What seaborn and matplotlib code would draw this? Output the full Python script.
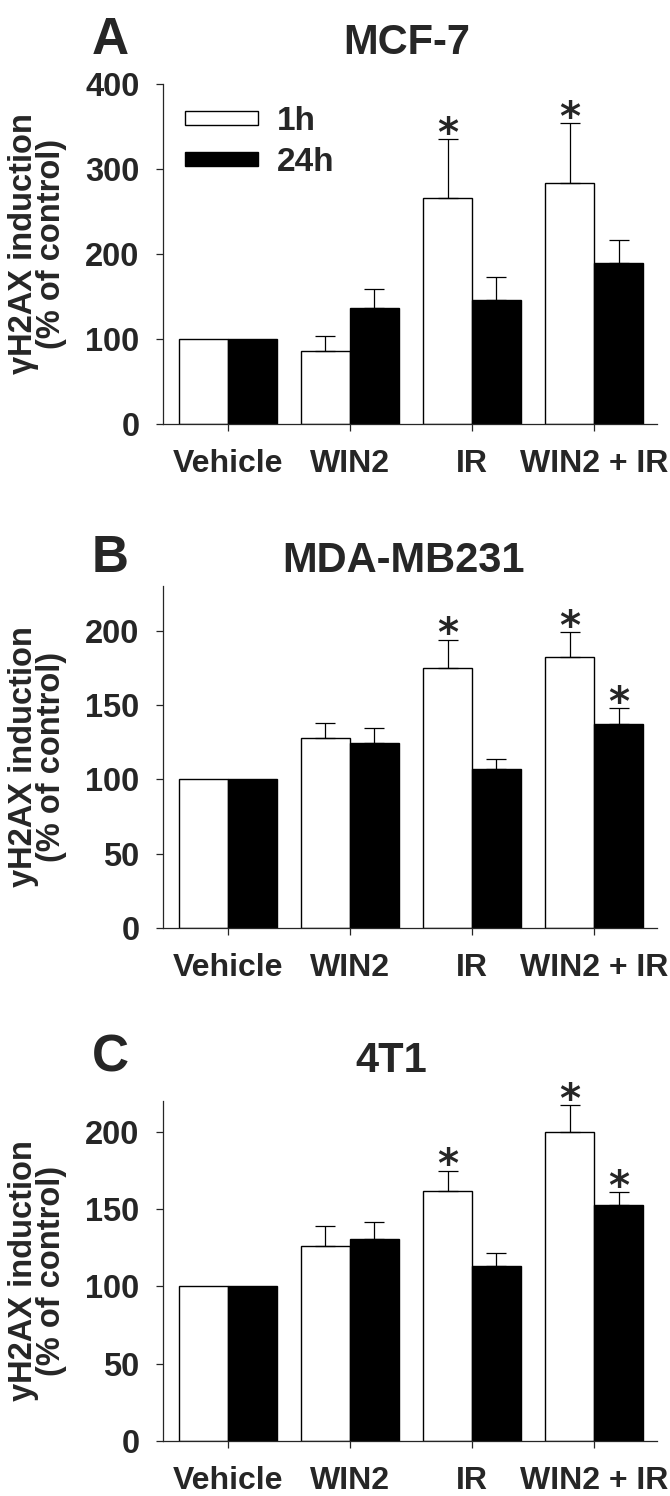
import numpy as np
import pandas as pd
import matplotlib
matplotlib.use("Agg")
import matplotlib.pyplot as plt
import seaborn as sns

# data (% of control, mean and upper SEM)
treatments = ["Vehicle", "WIN2", "IR", "WIN2 + IR"]
times = ["1h", "24h"]

mcf7_1h = [100, 86, 266, 284]
mcf7_1h_err = [0, 17, 69, 70]
mcf7_24h = [100, 137, 146, 189]
mcf7_24h_err = [0, 22, 27, 27]

mda_1h = [100, 128, 175, 182]
mda_1h_err = [0, 10, 19, 17]
mda_24h = [100, 124.5, 107, 137]
mda_24h_err = [0, 10, 6.5, 10.7]

t41_1h = [100, 126, 162, 200]
t41_1h_err = [0, 13, 13, 17.5]
t41_24h = [100, 130.5, 113.5, 152.5]
t41_24h_err = [0, 11, 8, 8.5]

# significance stars: (treatment index, time)
mcf7_stars = [(2, "1h"), (3, "1h")]
mda_stars = [(2, "1h"), (3, "1h"), (3, "24h")]
t41_stars = [(2, "1h"), (3, "1h"), (3, "24h")]

W, H = 670, 1496


def make_df(v1, v24):
    return pd.DataFrame({
        "treatment": treatments * 2,
        "time": ["1h"] * 4 + ["24h"] * 4,
        "value": list(v1) + list(v24),
    })


def plot_panel(ax, df, errs, stars, ylim, yticks, ylabel, label_y, legend):
    sns.barplot(data=df, x="treatment", y="value", hue="time", order=treatments,
                hue_order=times, palette=["white", "black"], edgecolor="black",
                linewidth=1.0, errorbar=None, width=0.8, ax=ax, legend=False)

    for cont, err, t in zip(ax.containers, errs, times):
        xs = np.array([b.get_x() + b.get_width() / 2 for b in cont])
        hs = np.array([b.get_height() for b in cont])
        err = np.array(err)
        m = err > 0
        ax.errorbar(xs[m], hs[m], yerr=[np.zeros(m.sum()), err[m]], fmt="none",
                    ecolor="black", elinewidth=0.9, capsize=7, capthick=0.9)
        for i, tt in stars:
            if tt == t:
                ax.annotate("*", xy=(xs[i], hs[i] + err[i]), xytext=(0, -5),
                            textcoords="offset points", ha="center", va="baseline",
                            fontsize=29, fontweight="bold", family="DejaVu Sans")

    ax.set_ylim(*ylim)
    ax.set_yticks(yticks)
    ax.set_xlim(-0.53, 3.515)
    ax.set_xlabel("")
    ax.set_ylabel(ylabel, fontsize=23.5, fontweight="bold", linespacing=0.85)
    ax.yaxis.set_label_coords(-0.195, label_y)
    ax.tick_params(axis="y", labelsize=23.5, length=5, width=0.9, pad=12)
    ax.tick_params(axis="x", labelsize=23, length=5, width=0.9, pad=13)
    sns.despine(ax=ax)
    for s in ["left", "bottom"]:
        ax.spines[s].set_linewidth(0.9)

    if legend:
        ax.legend(handles=list(ax.containers), labels=times, loc="upper left",
                  bbox_to_anchor=(0.044, 0.935), frameon=False, fontsize=24,
                  handlelength=2.2, handleheight=0.28, handletextpad=0.55,
                  labelspacing=0.3, borderpad=0, borderaxespad=0)


sns.set_style("ticks")
plt.rcParams["font.family"] = ["Liberation Sans", "DejaVu Sans"]
plt.rcParams["font.weight"] = "bold"
plt.rcParams["axes.labelweight"] = "bold"

fig = plt.figure(figsize=(W / 100, H / 100), dpi=100)

# panel layout in pixels: letter, title, title x, baseline y, axes top, axes bottom
panels = [
    ("A", "MCF-7", 407, 54, 84, 424),
    ("B", "MDA-MB231", 403, 572, 586, 928),
    ("C", "4T1", 391, 1072, 1101, 1441),
]
ax_left, ax_right = 163, 657

data = [
    (make_df(mcf7_1h, mcf7_24h), [mcf7_1h_err, mcf7_24h_err], mcf7_stars, (0, 400),
     [0, 100, 200, 300, 400], "\u03b3H2AX induction\n(% of control)", 0.53, True),
    (make_df(mda_1h, mda_24h), [mda_1h_err, mda_24h_err], mda_stars, (0, 230),
     [0, 50, 100, 150, 200], "yH2AX induction\n(% of control)", 0.5, False),
    (make_df(t41_1h, t41_24h), [t41_1h_err, t41_24h_err], t41_stars, (0, 220),
     [0, 50, 100, 150, 200], "yH2AX induction\n(% of control)", 0.5, False),
]

for (letter, title, tx, base, top, bottom), args in zip(panels, data):
    ax = fig.add_axes([ax_left / W, 1 - bottom / H, (ax_right - ax_left) / W, (bottom - top) / H])
    plot_panel(ax, *args)
    fig.text(92 / W, 1 - base / H, letter, fontsize=37, fontweight="bold",
             ha="left", va="baseline")
    fig.text(tx / W, 1 - base / H, title, fontsize=30, fontweight="bold",
             ha="center", va="baseline")

fig.savefig("out.png", dpi=100)
